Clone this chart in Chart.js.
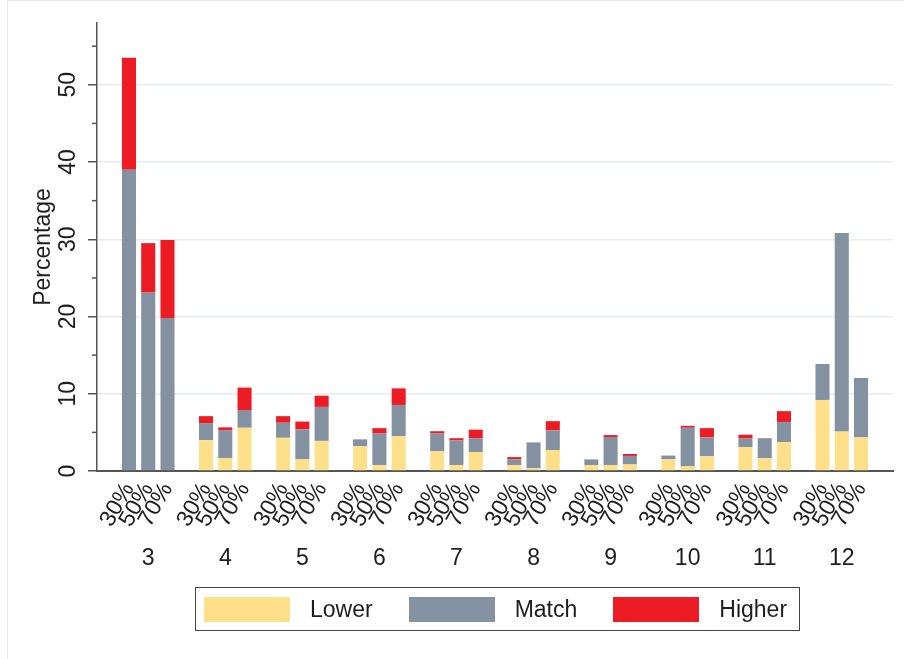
<!DOCTYPE html>
<html>
<head>
<meta charset="utf-8">
<script src="https://cdn.jsdelivr.net/npm/chart.js@4.4.1/dist/chart.umd.min.js"></script>
<style>
  body { margin: 0; background: #fff; }
  #wrap { position: relative; width: 904px; height: 659px; }
  #frame { position: absolute; left: 7px; top: 0; right: 0; bottom: 0; border-left: 1px solid #e4e9ee; border-top: 1px solid #e4e9ee; pointer-events: none; }
  #legend { position: absolute; left: 195px; top: 587px; width: 605px; height: 44px; box-sizing: border-box;
            border: 1.5px solid #444; display: flex; align-items: center; padding-left: 8px;
            font: 23px "Liberation Sans", Arial, sans-serif; color: #1e1e1e; }
  .sw { width: 86px; height: 25px; margin-right: 20px; flex: none; }
  .lab { margin-right: 36px; }
</style>
</head>
<body>
<div id="wrap">
  <canvas id="chart" width="904" height="659"></canvas>
  <div id="frame"></div>
  <div id="legend"></div>
</div>
<script>
// categories and thresholds
const groups = ['3', '4', '5', '6', '7', '8', '9', '10', '11', '12'];
const thresholds = ['30%', '50%', '70%'];
const yTicks = [0, 10, 20, 30, 40, 50];
const yMinor = [5, 15, 25, 35, 45, 55];

// values per threshold (percentage)
const lower30 = [0, 4.0, 4.3, 3.2, 2.55, 0.75, 0.75, 1.5, 3.1, 9.2];
const lower50 = [0, 1.65, 1.5, 0.75, 0.75, 0.35, 0.75, 0.6, 1.65, 5.1];
const lower70 = [0, 5.6, 3.9, 4.5, 2.45, 2.7, 0.85, 1.9, 3.75, 4.35];
const match30 = [39.0, 2.2, 1.95, 0.9, 2.3, 0.75, 0.75, 0.5, 1.1, 4.65];
const match50 = [23.1, 3.6, 3.9, 4.1, 3.2, 3.35, 3.65, 5.0, 2.6, 25.7];
const match70 = [19.8, 2.3, 4.4, 4.05, 1.8, 2.55, 1.1, 2.45, 2.6, 7.7];
const higher30 = [14.5, 0.9, 0.85, 0, 0.3, 0.3, 0, 0, 0.5, 0];
const higher50 = [6.4, 0.4, 1.0, 0.7, 0.3, 0, 0.25, 0.25, 0, 0];
const higher70 = [10.1, 2.9, 1.45, 2.15, 1.1, 1.2, 0.25, 1.2, 1.4, 0];

const seriesNames = ['Lower', 'Match', 'Higher'];
const seriesColors = ['#fee08b', '#8491a0', '#ed1c24'];
const seriesValues = [
    [lower30, lower50, lower70],
    [match30, match50, match70],
    [higher30, higher50, higher70]
];

const axisColor = '#555';
const textColor = '#1e1e1e';
const font = { family: '"Liberation Sans", Arial, sans-serif', size: 23 };

// each group takes 4 slots: 3 bars and a gap
const slot = (g, t) => g * 4 + t;
const positions = [];
groups.forEach((g, gi) => thresholds.forEach((t, ti) => positions.push(slot(gi, ti))));

const datasets = seriesNames.map((name, si) => {
    const data = [];
    groups.forEach((g, gi) => {
        thresholds.forEach((t, ti) => {
            data.push({ x: slot(gi, ti), y: seriesValues[si][ti][gi] });
        });
    });
    return {
        label: name,
        data: data,
        backgroundColor: seriesColors[si],
        borderWidth: 0,
        barPercentage: 0.73,
        categoryPercentage: 1
    };
});

// short unlabeled ticks between the labeled ones
const minorTicks = {
    id: 'minorTicks',
    afterDraw(chart) {
        const y = chart.scales.y;
        const ctx = chart.ctx;
        const x0 = chart.chartArea.left;
        ctx.save();
        ctx.strokeStyle = axisColor;
        ctx.lineWidth = 1.5;
        yMinor.forEach(v => {
            const py = y.getPixelForValue(v);
            ctx.beginPath();
            ctx.moveTo(x0 - 5, py);
            ctx.lineTo(x0, py);
            ctx.stroke();
        });
        ctx.restore();
    }
};

const xMin = -1.66, xMax = slot(groups.length - 1, 2) + 1.66;

new Chart(document.getElementById('chart'), {
    type: 'bar',
    data: { datasets: datasets },
    plugins: [minorTicks],
    options: {
        responsive: false,
        animation: false,
        layout: { padding: { left: 0, top: 23, right: 11, bottom: 0 } },
        plugins: {
            legend: { display: false },
            tooltip: { enabled: false }
        },
        scales: {
            x: {
                type: 'linear',
                stacked: true,
                offset: false,
                min: xMin,
                max: xMax,
                afterBuildTicks: s => { s.ticks = positions.map(v => ({ value: v })); },
                afterFit: s => { s.height = 60; },
                ticks: {
                    autoSkip: false,
                    minRotation: 60,
                    maxRotation: 60,
                    padding: 7,
                    color: textColor,
                    font: font,
                    callback: v => thresholds[v % 4]
                },
                grid: { drawOnChartArea: false, drawTicks: false },
                border: { color: axisColor, width: 2 }
            },
            x2: {
                type: 'linear',
                position: 'bottom',
                weight: 1,
                offset: false,
                min: xMin,
                max: xMax,
                afterBuildTicks: s => { s.ticks = groups.map((g, gi) => ({ value: slot(gi, 1) })); },
                afterFit: s => { s.height = 128; },
                ticks: {
                    autoSkip: false,
                    minRotation: 0,
                    maxRotation: 0,
                    padding: 14,
                    color: textColor,
                    font: font,
                    callback: v => groups[(v - 1) / 4]
                },
                grid: { display: false, drawTicks: false },
                border: { display: false }
            },
            y: {
                stacked: true,
                min: 0,
                max: 58,
                afterBuildTicks: s => { s.ticks = yTicks.map(v => ({ value: v })); },
                afterFit: s => { s.width = 97; },
                ticks: {
                    minRotation: 90,
                    maxRotation: 90,
                    crossAlign: 'center',
                    padding: 7,
                    color: textColor,
                    font: font
                },
                grid: { color: '#e8edf2', lineWidth: 1.5, tickColor: axisColor, tickLength: 9, tickWidth: 1.5 },
                border: { color: axisColor, width: 1.5 },
                title: {
                    display: true,
                    text: 'Percentage',
                    color: textColor,
                    font: font,
                    padding: { top: 30, bottom: 0 }
                }
            }
        }
    }
});

// legend box built from the series
const legendEl = document.getElementById('legend');
seriesNames.forEach((name, i) => {
    const sw = document.createElement('div');
    sw.className = 'sw';
    sw.style.background = seriesColors[i];
    const lab = document.createElement('div');
    lab.className = 'lab';
    lab.textContent = name;
    legendEl.appendChild(sw);
    legendEl.appendChild(lab);
});
</script>
</body>
</html>
